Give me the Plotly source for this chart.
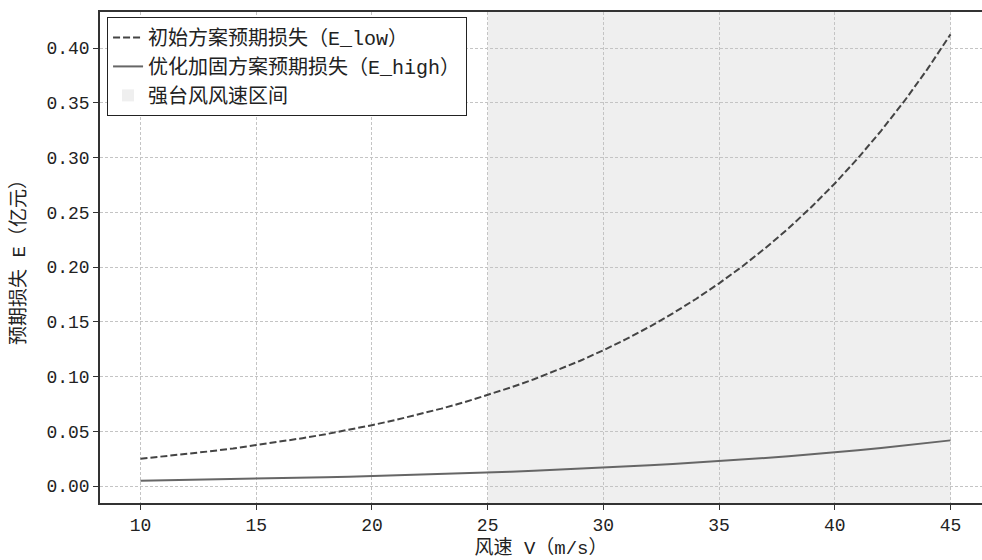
import plotly.graph_objects as go

wind_speed = list(range(10, 46))
e_low = [0.0250, 0.0271, 0.0293, 0.0318, 0.0344, 0.0373, 0.0404, 0.0438, 0.0474, 0.0514,
         0.0557, 0.0603, 0.0654, 0.0708, 0.0767, 0.0831, 0.0901, 0.0976, 0.1057, 0.1145,
         0.1241, 0.1344, 0.1456, 0.1578, 0.1709, 0.1852, 0.2006, 0.2174, 0.2355, 0.2551,
         0.2764, 0.2995, 0.3245, 0.3515, 0.3808, 0.4126]
e_high = [0.0050, 0.0053, 0.0056, 0.0060, 0.0064, 0.0068, 0.0072, 0.0076, 0.0081, 0.0086,
          0.0092, 0.0097, 0.0104, 0.0110, 0.0117, 0.0124, 0.0132, 0.0140, 0.0149, 0.0158,
          0.0168, 0.0179, 0.0190, 0.0202, 0.0214, 0.0228, 0.0242, 0.0257, 0.0273, 0.0290,
          0.0309, 0.0328, 0.0348, 0.0370, 0.0393, 0.0418]
storm_range = [25, 45]
x_ticks = [10, 15, 20, 25, 30, 35, 40, 45]
y_ticks = [0.00, 0.05, 0.10, 0.15, 0.20, 0.25, 0.30, 0.35, 0.40]

FONT = "Liberation Mono, Noto Sans CJK SC, monospace"

fig = go.Figure()
fig.add_trace(go.Scatter(x=wind_speed, y=e_low, mode="lines",
                         name="初始方案预期损失（E_low）",
                         line=dict(color="#444444", width=2, dash="7px,3px")))
fig.add_trace(go.Scatter(x=wind_speed, y=e_high, mode="lines",
                         name="优化加固方案预期损失（E_high）",
                         line=dict(color="#666666", width=2)))
fig.add_shape(type="rect", xref="x", yref="paper", x0=storm_range[0], x1=storm_range[1],
              y0=0, y1=1, fillcolor="#efefef", line=dict(width=0), layer="below",
              showlegend=True, name="强台风风速区间")

fig.update_layout(
    width=982, height=560,
    margin=dict(l=100, r=0, t=12, b=57, autoexpand=False),
    paper_bgcolor="white", plot_bgcolor="white",
    font=dict(family=FONT, size=18, color="#222222"),
    legend=dict(x=0.008, y=0.99, xanchor="left", yanchor="top",
                bgcolor="white", bordercolor="#222222", borderwidth=1,
                font=dict(family=FONT, size=20), tracegroupgap=0, itemwidth=30),
    showlegend=True,
)
axis_common = dict(showline=True, linecolor="#333333", linewidth=1.5,
                   ticks="outside", ticklen=5, tickcolor="#333333", automargin=False,
                   showgrid=True, gridcolor="#c4c4c4", griddash="3px,2px", gridwidth=1,
                   zeroline=False, tickfont=dict(family=FONT, size=18, color="#222222"))
fig.update_xaxes(range=[8.25, 46.36], tickvals=x_ticks, mirror=True,
                 title=dict(text="风速 V（m/s）", font=dict(family=FONT, size=19), standoff=8),
                 **axis_common)
fig.update_yaxes(range=[-0.0154, 0.4330], tickvals=y_ticks, tickformat=".2f", mirror=False,
                 title=dict(text="预期损失 E（亿元）", font=dict(family=FONT, size=19), standoff=16),
                 **axis_common)

fig.write_html("out.html", post_script="document.body.style.margin='0';",
               config={"displayModeBar": False})
